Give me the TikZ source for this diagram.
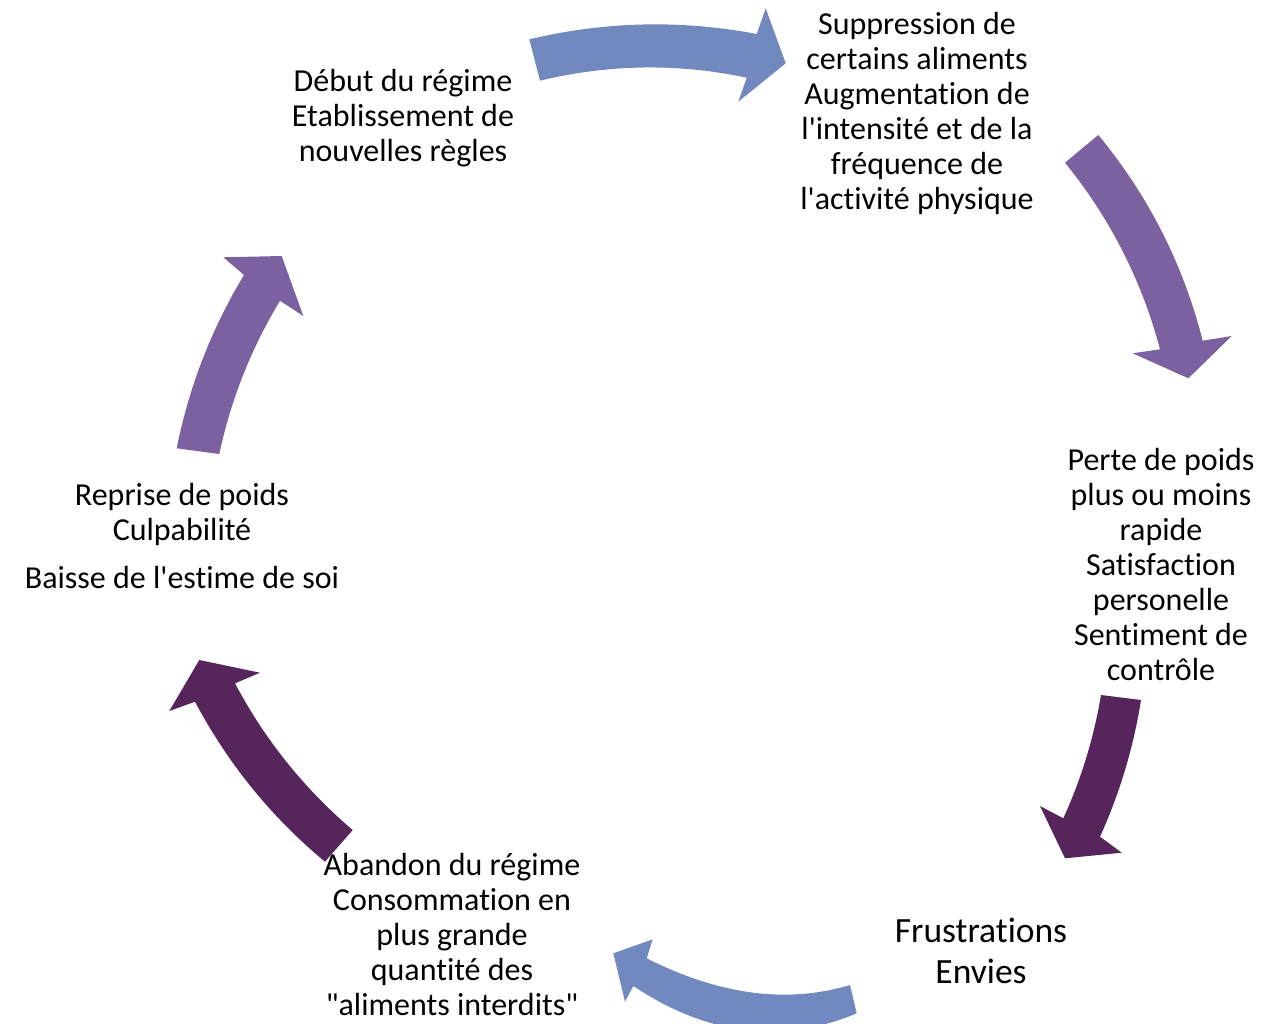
\documentclass[tikz,border=0pt]{standalone}
\usepackage{fontspec}
\setmainfont{Carlito}[Ligatures={TeXOff,CommonOff}]
\usetikzlibrary{calc}
\definecolor{cblue}{RGB}{114,137,191}
\definecolor{cpurple}{RGB}{123,97,160}
\definecolor{cplum}{RGB}{85,37,91}
% curved band arrow from named points: to/om/no (outer edge), bo/tip/bi (head), ni/im/ti (inner edge)
\newcommand\bandarrow[2]{%
  \coordinate (#1-oq) at ($2*(#1-om)-0.5*(#1-to)-0.5*(#1-no)$);
  \coordinate (#1-iq) at ($2*(#1-im)-0.5*(#1-ti)-0.5*(#1-ni)$);
  \fill[#2] (#1-to) .. controls ($(#1-to)!2/3!(#1-oq)$) and ($(#1-no)!2/3!(#1-oq)$) .. (#1-no)
     -- (#1-bo) -- (#1-tip) -- (#1-bi) -- (#1-ni)
     .. controls ($(#1-ni)!2/3!(#1-iq)$) and ($(#1-ti)!2/3!(#1-iq)$) .. (#1-ti) -- cycle;}
\tikzset{
  lbl/.style={align=center, anchor=base, inner sep=0pt, text=black,
              font=\fontsize{32}{35}\selectfont},
  biglbl/.style={lbl, font=\fontsize{35.5}{41}\selectfont}
}
\begin{document}
\begin{tikzpicture}[x=1pt,y=-1pt]
\useasboundingbox (0,0) rectangle (1268,1023);
\fill[white] (0,0) rectangle (1268,1023);

% arrow 1 : top (blue)
\coordinate (a1-to) at (529.3,39.3);
\coordinate (a1-om) at (643,24.5);
\coordinate (a1-no) at (756.7,34);
\coordinate (a1-bo) at (765.7,8.3);
\coordinate (a1-tip) at (785.7,63.3);
\coordinate (a1-bi) at (738.3,101.7);
\coordinate (a1-ni) at (746.7,77.7);
\coordinate (a1-im) at (643.3,67.5);
\coordinate (a1-ti) at (540,80.7);
\bandarrow{a1}{cblue}

% arrow 2 : upper right (purple)
\coordinate (a2-to) at (1098.3,135);
\coordinate (a2-om) at (1162,232);
\coordinate (a2-no) at (1202.7,340.7);
\coordinate (a2-bo) at (1231.7,336);
\coordinate (a2-tip) at (1188.3,378.3);
\coordinate (a2-bi) at (1132.7,353.3);
\coordinate (a2-ni) at (1160,349.3);
\coordinate (a2-im) at (1122.5,250.9);
\coordinate (a2-ti) at (1065,162.7);
\bandarrow{a2}{cpurple}

% arrow 3 : lower right (plum)
\coordinate (a3-to) at (1141,700);
\coordinate (a3-om) at (1125.1,769.7);
\coordinate (a3-no) at (1100,836.7);
\coordinate (a3-bo) at (1121.7,852.7);
\coordinate (a3-tip) at (1065,858.3);
\coordinate (a3-bi) at (1040,806);
\coordinate (a3-ni) at (1063.3,818.3);
\coordinate (a3-im) at (1086.2,757.9);
\coordinate (a3-ti) at (1101,695);
\bandarrow{a3}{cplum}

% arrow 4 : bottom (blue)
\coordinate (a4-to) at (856.7,1013.3);
\coordinate (a4-om) at (745,1030);
\coordinate (a4-no) at (633.3,986);
\coordinate (a4-bo) at (625,1001.7);
\coordinate (a4-tip) at (613.3,953.3);
\coordinate (a4-bi) at (652.7,939.3);
\coordinate (a4-ni) at (646.7,958.3);
\coordinate (a4-im) at (752,992.5);
\coordinate (a4-ti) at (850,985);
\bandarrow{a4}{cblue}

% arrow 5 : lower left (plum)
\coordinate (a5-to) at (325,861.7);
\coordinate (a5-om) at (252.2,788.2);
\coordinate (a5-no) at (195,701.7);
\coordinate (a5-bo) at (169.3,711);
\coordinate (a5-tip) at (199.3,660);
\coordinate (a5-bi) at (260,672.7);
\coordinate (a5-ni) at (235,683.3);
\coordinate (a5-im) at (286.8,762.3);
\coordinate (a5-ti) at (352.7,830);
\bandarrow{a5}{cplum}

% arrow 6 : upper left (purple)
\coordinate (a6-to) at (176.7,448.3);
\coordinate (a6-om) at (202.8,358.7);
\coordinate (a6-no) at (244,275);
\coordinate (a6-bo) at (223.3,257.3);
\coordinate (a6-tip) at (281.7,256);
\coordinate (a6-bi) at (303.3,316);
\coordinate (a6-ni) at (280,300.7);
\coordinate (a6-im) at (243.2,374.8);
\coordinate (a6-ti) at (219.3,454);
\bandarrow{a6}{cpurple}

% texts (anchor base = baseline of the last line)
\node[lbl] (t1) at (403,161.3) {Début du régime\\Etablissement de\\nouvelles règles};
\node[lbl] (t2) at (917,209) {Suppression de\\certains aliments\\Augmentation de\\l'intensité et de la\\fréquence de\\l'activité physique};
\node[lbl] (t3) at (1161,680) {Perte de poids\\plus ou moins\\rapide\\Satisfaction\\personelle\\Sentiment de\\contrôle};
\node[biglbl] (t4) at (981,983) {Frustrations\\Envies};
\node[lbl] (t5) at (452,1015) {Abandon du régime\\Consommation en\\plus grande\\quantité des\\"aliments interdits"};
\node[lbl] (t6) at (182,588.3) {Reprise de poids\\Culpabilité\\[13pt]Baisse de l'estime de soi};
\end{tikzpicture}
\end{document}
